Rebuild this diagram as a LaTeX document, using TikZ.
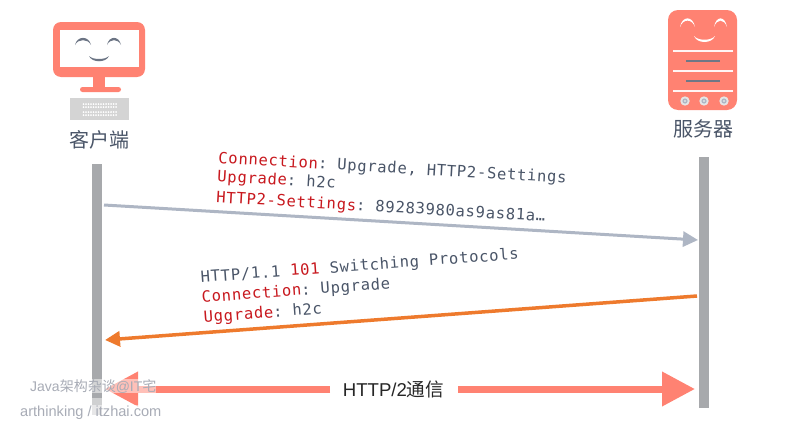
\documentclass[tikz,border=0pt]{standalone}
\usepackage{fontspec}
\setmainfont{Liberation Sans}
\setmonofont[LetterSpace=4.6]{DejaVu Sans Mono}
\newfontfamily\cjkfont{Noto Sans CJK SC}
\usetikzlibrary{arrows.meta}
\definecolor{salmon}{HTML}{FF8272}
\definecolor{life}{HTML}{A7A9AC}
\definecolor{slate}{HTML}{4A5568}
\definecolor{redkey}{HTML}{C8181E}
\definecolor{reqblue}{HTML}{AEB6C4}
\definecolor{resporange}{HTML}{EE7A2D}
\definecolor{facegray}{HTML}{6B7484}
\definecolor{markgray}{HTML}{A8ACB6}
\newcommand{\crescent}[5]{\fill[#5] (#1,#4) .. controls (#1+2,#3-2.5) and (#2-2,#3-2.5) .. (#2,#4) .. controls (#2-3,#3+.5) and (#1+3,#3+.5) .. (#1,#4) -- cycle;}
\newcommand{\smileshape}[5]{\fill[#5] (#1,#3) .. controls (#1+3,#4+2) and (#2-3,#4+2) .. (#2,#3) .. controls (#2-4,#4-1) and (#1+4,#4-1) .. (#1,#3) -- cycle;}
\newcommand{\rk}[1]{\textcolor{redkey}{#1}}
\tikzset{
  x=1pt,y=-1pt,
  lifeline/.style={fill=life,draw=none},
  hostlabel/.style={font=\fontsize{20}{24}\selectfont\cjkfont,text=slate,inner sep=0pt},
  msg/.style={font=\fontsize{15.5}{20}\selectfont\ttfamily,text=slate,inner sep=0pt,anchor=base west},
  reqarrow/.style={draw=reqblue,line width=3pt,-{Triangle[length=15pt,width=15pt]}},
  resparrow/.style={draw=resporange,line width=3.5pt,-{Triangle[length=15pt,width=15pt]}},
  bigarrow/.style={draw=salmon,line width=7pt,-{Triangle[length=33pt,width=33pt]}},
  mark text/.style={inner sep=0pt,text=markgray,anchor=base west,fill=white,fill opacity=.5,text opacity=1}
}
\begin{document}
\begin{tikzpicture}
\useasboundingbox (0,0) rectangle (800,423);
\fill[white] (0,0) rectangle (800,423);
% client icon
\fill[salmon,rounded corners=8pt] (53,22) rectangle (145,77);
\fill[white] (60,30) rectangle (139,67);
\fill[salmon] (93,76) rectangle (105,89);
\fill[salmon,rounded corners=2.5pt] (80,87) rectangle (121,92);
\fill[black!17] (70,98) rectangle (129,120);
\foreach \r in {104,107,112,115}
  \foreach \c in {0,...,13} \fill[white] (83.5+2.5*\c,\r) circle (1);
\crescent{75}{91}{38}{45}{facegray}
\crescent{107}{121}{38}{45}{facegray}
\smileshape{89}{109}{56}{61}{facegray}
% server icon
\fill[salmon,rounded corners=10pt] (668,10) rectangle (737,110);
\crescent{680}{695}{18}{27}{white}
\crescent{714}{727}{18}{27}{white}
\smileshape{694}{715}{36}{42}{white}
\foreach \v in {51,71,91} \fill[white!92!salmon] (673,\v-.7) rectangle (733,\v+.7);
\foreach \v in {61,81} \fill[slate!80] (686,\v-.7) rectangle (720,\v+.7);
\foreach \c in {685,704,724} {\fill[white!90!black] (\c,101) circle (4.7); \fill[reqblue] (\c,101) circle (2.6); \fill[white!90!black] (\c,101) circle (1.2);}
% lifelines
\node[lifeline,inner sep=0pt,minimum width=10pt,minimum height=234pt,anchor=north] (clientline) at (97,164) {};
\fill[life!55] (92,398) rectangle (102,415);
\node[lifeline,inner sep=0pt,minimum width=10pt,minimum height=251pt,anchor=north] (serverline) at (704,157) {};
% host labels
\node[hostlabel] (client) at (99,140) {客户端};
\node[hostlabel] (server) at (703.5,129) {服务器};
% connector ends
\coordinate (reqa) at (104,205);
\coordinate (reqb) at (698,240);
\coordinate (respa) at (697,296);
\coordinate (respb) at (105,340);
\coordinate (bigl) at (105,389);
\coordinate (bigr) at (695,389);
\draw[reqarrow] (reqa) -- (reqb);
\draw[resparrow] (respa) -- (respb);
% messages
\node[msg,rotate=-3.3] (m1) at (218,163) {\rk{Connection}: Upgrade, HTTP2-Settings};
\node[msg,rotate=-3.3] (m2) at (217,181.5) {\rk{Upgrade}: h2c};
\node[msg,rotate=-3.3] (m3) at (216,202.5) {\rk{HTTP2-Settings}: 89283980as9as81a…};
\node[msg,rotate=4.2] (m4) at (201,282.5) {HTTP/1.1 \rk{101} Switching Protocols};
\node[msg,rotate=4.2] (m5) at (202,302.5) {\rk{Connection}: Upgrade};
\node[msg,rotate=4.2] (m6) at (204,322.5) {\rk{Uggrade}: h2c};
% HTTP/2 bar
\node[inner sep=0pt,text=black!85,font=\fontsize{18.6}{22}\selectfont] (h2) at (393.5,389) {HTTP/2{\cjkfont 通信}};
\coordinate (h2l) at (330,389);
\coordinate (h2r) at (458,389);
\draw[bigarrow] (h2l) -- (bigl);
\draw[bigarrow] (h2r) -- (bigr);
% watermark
\node[mark text,font=\fontsize{14}{17}\selectfont] (w1) at (30,391) {Java{\cjkfont 架构杂谈}@IT{\cjkfont 宅}};
\node[mark text,font=\fontsize{14.6}{17}\selectfont] (w2) at (20,416) {arthinking / itzhai.com};
\end{tikzpicture}
\end{document}
